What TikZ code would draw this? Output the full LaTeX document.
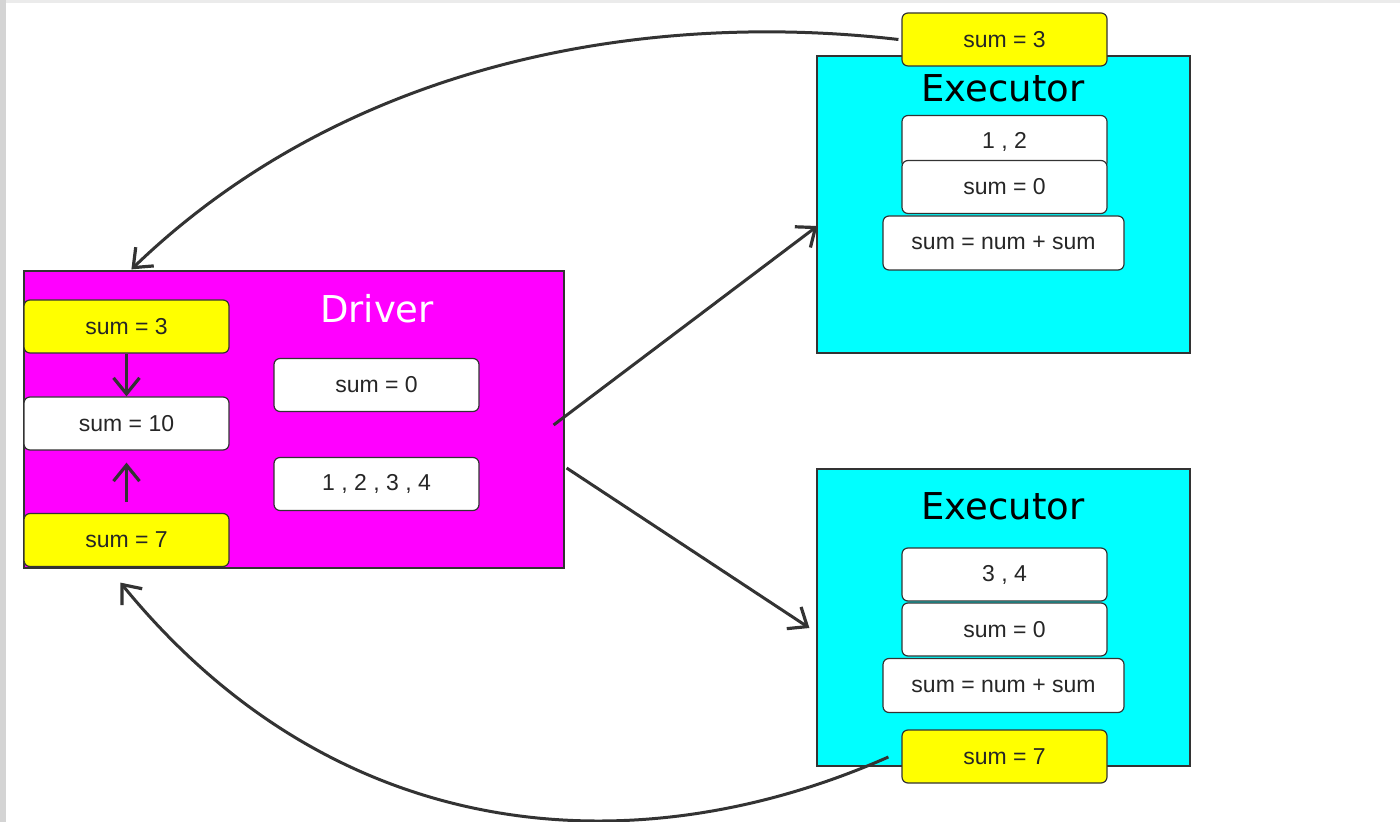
\documentclass[tikz,border=0pt]{standalone}
\usepackage{fontspec}
\setmainfont{Liberation Sans}
\newfontfamily\titlefont{DejaVu Sans}
\usetikzlibrary{arrows.meta}

\definecolor{inkgray}{HTML}{333333}
\definecolor{drivermag}{HTML}{FF00FF}
\definecolor{execcyan}{HTML}{00FFFF}
\definecolor{resyellow}{HTML}{FFFF00}

\begin{document}
\begin{tikzpicture}[
  x=0.5pt, y=-0.5pt,
  every node/.style={inner sep=0pt},
  panel/.style={draw=inkgray, line width=0.6pt, minimum width=#1, minimum height=148.5pt},
  title/.style={font=\titlefont\fontsize{18.5}{22}\selectfont},
  cell/.style={draw=inkgray, line width=0.6pt, rounded corners=3pt, fill=white,
    minimum width=102.5pt, minimum height=26.5pt, text=black!85,
    font=\fontsize{11.5}{13}\selectfont},
  widecell/.style={cell, minimum width=120.5pt, minimum height=27pt},
  result/.style={cell, fill=resyellow},
  flow/.style={draw=inkgray, line width=1.5pt,
    -{Straight Barb[length=8pt,width=13pt,line width=1.6pt]}}]

  % ---- page and the thin grey edges of the screenshot ---------------------
  \useasboundingbox (0,0) rectangle (1400,822);
  \fill[black!8] (0,0) rectangle (1400,3);
  \fill[black!17] (0,0) rectangle (6,822);

  % ---- the driver ---------------------------------------------------------
  \node[panel=270pt, fill=drivermag] (driver) at (294,419.5) {};
  \node[title, text=white] (drivertitle) at (377,309) {Driver};
  \node[result] (dsum3) at (126.5,326.5) {sum = 3};
  \node[cell] (dsum10) at (126.5,423.5) {sum = 10};
  \node[result] (dsum7) at (126.5,540) {sum = 7};
  \node[cell] (dzero) at (376.5,385) {sum = 0};
  \node[cell] (dlist) at (376.5,484) {1 , 2 , 3 , 4};

  % ---- the first executor -------------------------------------------------
  \node[panel=186.5pt, fill=execcyan] (exec1) at (1003.5,204.5) {};
  \node[title] (exec1title) at (1003,88) {Executor};
  \node[cell] (e1list) at (1004.5,142) {1 , 2};
  \node[cell] (e1zero) at (1004.5,187) {sum = 0};
  \node[widecell] (e1rule) at (1003.5,243) {sum = num + sum};
  \node[result] (e1res) at (1004.5,39.5) {sum = 3};

  % ---- the second executor ------------------------------------------------
  \node[panel=186.5pt, fill=execcyan] (exec2) at (1003.5,617.5) {};
  \node[title] (exec2title) at (1003,506) {Executor};
  \node[cell] (e2list) at (1004.5,574.5) {3 , 4};
  \node[cell] (e2zero) at (1004.5,629.5) {sum = 0};
  \node[widecell] (e2rule) at (1003.5,685.5) {sum = num + sum};
  \node[result] (e2res) at (1004.5,756.5) {sum = 7};

  % ---- partial sums merged inside the driver ------------------------------
  \draw[flow] (dsum3.south) -- (dsum10.north);
  \draw[flow, shorten <=5.5pt, shorten >=6pt] (dsum7.north) -- (dsum10.south);

  % ---- the data sent out to the executors ---------------------------------
  \draw[flow] ([shift={(-11,5.5)}]driver.east) -- ([shift={(1,21.5)}]exec1.west);
  \draw[flow] ([shift={(2,48.5)}]driver.east) -- ([shift={(-7,10.5)}]exec2.west);

  % ---- the results sent back ----------------------------------------------
  \draw[flow] ([shift={(-3,0)}]e1res.west)
    .. controls +(-249,-29) and +(218,-210) .. ([shift={(108,-1)}]driver.north west);
  \draw[flow] ([shift={(-13,0.5)}]e2res.west)
    .. controls +(-249,110) and +(219,268) .. ([shift={(97,14)}]driver.south west);
\end{tikzpicture}
\end{document}
